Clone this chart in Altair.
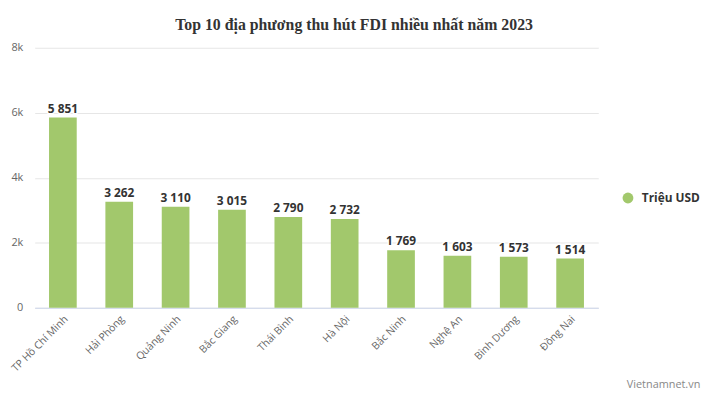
import altair as alt
import pandas as pd

provinces = ["TP Hồ Chí Minh", "Hải Phòng", "Quảng Ninh", "Bắc Giang", "Thái Bình",
             "Hà Nội", "Bắc Ninh", "Nghệ An", "Bình Dương", "Đồng Nai"]
values = [5851, 3262, 3110, 3015, 2790, 2732, 1769, 1603, 1573, 1514]
labels = ["5 851", "3 262", "3 110", "3 015", "2 790", "2 732", "1 769", "1 603", "1 573", "1 514"]
series = "Triệu USD"
y_ticks = [0, 2000, 4000, 6000, 8000]

df = pd.DataFrame({"prov": provinces, "val": values, "lab": labels, "s": [series] * len(values)})

FONT = "Open Sans"
GREEN = "#a2c86c"

x = alt.X("prov:N", sort=provinces, title=None,
          scale=alt.Scale(paddingInner=0.52, paddingOuter=0.26),
          axis=alt.Axis(labelAngle=-45, labelFont=FONT, labelFontSize=10.5, labelColor="#666666",
                        domainColor="#ccd6eb", ticks=False, labelPadding=6, grid=False))
y = alt.Y("val:Q", title=None,
          scale=alt.Scale(domain=[0, 8000], nice=False),
          axis=alt.Axis(values=y_ticks, labelExpr="datum.value == 0 ? '0' : (datum.value / 1000) + 'k'",
                        labelFont=FONT, labelFontSize=11,
                        labelColor="#666666", domain=False, ticks=False, gridColor="#e6e6e6",
                        labelPadding=12))

bars = alt.Chart(df).mark_bar(size=28).encode(
    x=x, y=y,
    color=alt.Color("s:N", scale=alt.Scale(range=[GREEN]), title=None,
                    legend=alt.Legend(orient="none", legendX=594, legendY=146, symbolType="circle",
                                      symbolSize=120, labelFont=FONT, labelFontSize=12,
                                      labelFontWeight="bold", labelColor="#333333",
                                      symbolStrokeWidth=0, labelOffset=8)),
)

halo = alt.Chart(df).mark_text(dy=-9, fontSize=12, fontWeight="bold", font=FONT,
                               stroke="white", strokeWidth=3, color="white",
                               strokeJoin="round").encode(x=x, y=y, text="lab:N")
txt = alt.Chart(df).mark_text(dy=-9, fontSize=12, fontWeight="bold", font=FONT,
                              color="#333333").encode(x=x, y=y, text="lab:N")

credit = alt.Chart(pd.DataFrame({"t": ["Vietnamnet.vn"]})).mark_text(
    font=FONT, fontSize=11, color="#888888", align="center"
).encode(x=alt.value(636), y=alt.value(341), text="t:N")

chart = alt.layer(bars, halo, txt, credit).properties(
    width=570, height=263,
    title=alt.TitleParams("Top 10 địa phương thu hút FDI nhiều nhất năm 2023",
                          font="Liberation Serif", fontSize=16, fontWeight="bold",
                          color="#333333", anchor="middle", offset=9, dx=38),
    autosize=alt.AutoSizeParams(type="none"),
    padding={"left": 27, "top": 38, "right": 115, "bottom": 85},
).configure(background="white").configure_view(stroke=None, strokeWidth=0)

chart.save("out.html", embed_options={"renderer": "svg", "actions": False})
